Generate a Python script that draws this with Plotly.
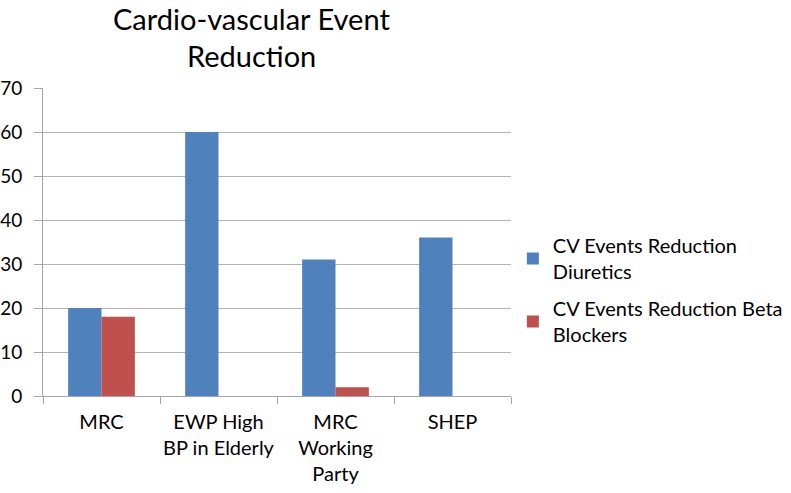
import plotly.graph_objects as go

categories = ["MRC", "EWP High<br>BP in Elderly", "MRC<br>Working<br>Party", "SHEP"]
diuretics = [20, 60, 31, 36]
beta_blockers = [18, 0, 2, 0]
series_names = ["CV Events Reduction<br>Diuretics", "CV Events Reduction Beta<br>Blockers"]
y_ticks = [0, 10, 20, 30, 40, 50, 60, 70]
title_lines = ["Cardio-vascular Event", "Reduction"]

FONT = "Lato, Carlito, Calibri, sans-serif"

fig = go.Figure()
fig.add_trace(go.Bar(x=categories, y=diuretics, name=series_names[0], legendgroup="a",
                     marker=dict(color="#4F81BD", line=dict(width=0))))
fig.add_trace(go.Bar(x=categories, y=beta_blockers, name=series_names[1], legendgroup="b",
                     marker=dict(color="#C0504D", line=dict(width=0))))

fig.update_layout(
    width=791, height=493,
    margin=dict(l=43, r=280, t=88, b=97, autoexpand=False),
    paper_bgcolor="white", plot_bgcolor="white",
    barmode="group", bargap=0.43, bargroupgap=0,
    font=dict(family=FONT, size=20, color="#000000"),
    showlegend=True,
    legend=dict(x=1.004, xanchor="left", y=0.344, yanchor="middle",
                font=dict(size=20), tracegroupgap=8, itemwidth=30,
                bgcolor="rgba(0,0,0,0)"),
    xaxis=dict(showline=True, linecolor="#a6a6a6", linewidth=1,
               ticks="outside", ticklen=7, tickcolor="#a6a6a6",
               tickson="boundaries", tickfont=dict(size=20), tickangle=0,
               showgrid=False, fixedrange=True, automargin=False,
               ticklabelstandoff=8),
    yaxis=dict(range=[0, 70], tickvals=y_ticks, showline=True,
               linecolor="#a6a6a6", linewidth=1, ticks="outside", ticklen=8,
               tickcolor="#a6a6a6", showgrid=True, gridcolor="#b3b3b3",
               gridwidth=1, zeroline=False, tickfont=dict(size=19),
               ticklabelstandoff=8, automargin=False),
    annotations=[
        dict(text=title_lines[0], xref="paper", yref="paper",
             x=(251 - 43) / 468, y=(396 - 18) / 308, xanchor="center", yanchor="middle",
             showarrow=False, font=dict(size=29, family=FONT)),
        dict(text=title_lines[1], xref="paper", yref="paper",
             x=(251 - 43) / 468, y=(396 - 56) / 308, xanchor="center", yanchor="middle",
             showarrow=False, font=dict(size=29, family=FONT)),
    ],
)

fig.write_html("out.html", config={"displayModeBar": False},
               post_script="document.body.style.margin='0';")
